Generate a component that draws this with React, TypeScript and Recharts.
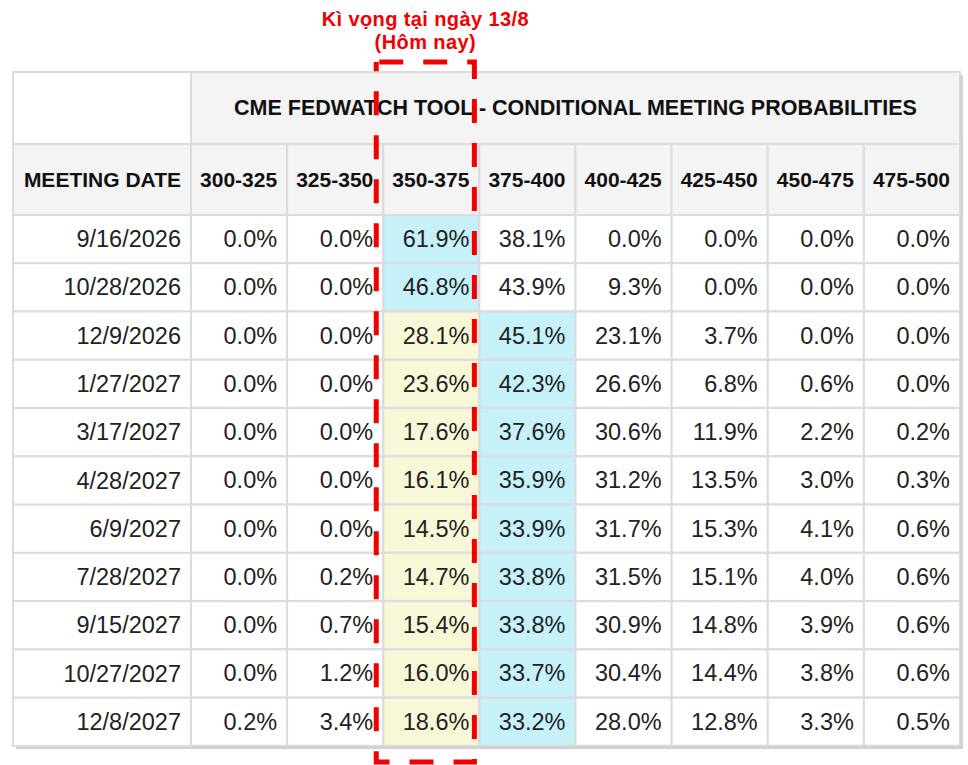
import React from 'react';
import { ComposedChart, Bar, XAxis, YAxis, ReferenceArea } from 'recharts';

const title = 'CME FEDWATCH TOOL - CONDITIONAL MEETING PROBABILITIES';
const dateHeader = 'MEETING DATE';
const noteLine1 = 'Kì vọng tại ngày 13/8';
const noteLine2 = '(Hôm nay)';

const buckets = ['300-325', '325-350', '350-375', '375-400', '400-425', '425-450', '450-475', '475-500'];

const meetingDates = [
  '9/16/2026',
  '10/28/2026',
  '12/9/2026',
  '1/27/2027',
  '3/17/2027',
  '4/28/2027',
  '6/9/2027',
  '7/28/2027',
  '9/15/2027',
  '10/27/2027',
  '12/8/2027',
];

// probabilities (%) per target-rate bucket, one value per meeting date
const p300_325 = [0.0, 0.0, 0.0, 0.0, 0.0, 0.0, 0.0, 0.0, 0.0, 0.0, 0.2];
const p325_350 = [0.0, 0.0, 0.0, 0.0, 0.0, 0.0, 0.0, 0.2, 0.7, 1.2, 3.4];
const p350_375 = [61.9, 46.8, 28.1, 23.6, 17.6, 16.1, 14.5, 14.7, 15.4, 16.0, 18.6];
const p375_400 = [38.1, 43.9, 45.1, 42.3, 37.6, 35.9, 33.9, 33.8, 33.8, 33.7, 33.2];
const p400_425 = [0.0, 9.3, 23.1, 26.6, 30.6, 31.2, 31.7, 31.5, 30.9, 30.4, 28.0];
const p425_450 = [0.0, 0.0, 3.7, 6.8, 11.9, 13.5, 15.3, 15.1, 14.8, 14.4, 12.8];
const p450_475 = [0.0, 0.0, 0.0, 0.6, 2.2, 3.0, 4.1, 4.0, 3.9, 3.8, 3.3];
const p475_500 = [0.0, 0.0, 0.0, 0.0, 0.2, 0.3, 0.6, 0.6, 0.6, 0.6, 0.5];

const series = [p300_325, p325_350, p350_375, p375_400, p400_425, p425_450, p450_475, p475_500];

// bucket holding the current target range
const currentBucket = 2;

const rows = meetingDates.map((date, i) => ({ date, probs: series.map((s) => s[i]) }));

// layout
const W = 968;
const H = 765;
const TABLE_LEFT = 13;
const BODY_LEFT = 191;
const TABLE_RIGHT = 960;
const TITLE_TOP = 72;
const HEAD_TOP = 144;
const BODY_TOP = 215;
const BODY_BOTTOM = 746;
const COL_W = (TABLE_RIGHT - BODY_LEFT) / buckets.length;
const ROW_H = (BODY_BOTTOM - BODY_TOP) / meetingDates.length;

const FONT = '"Liberation Sans", Arial, sans-serif';
const BORDER = '#dcdcdc';
const HEAD_BG = '#f4f4f4';
const CYAN = '#c6f1f9';
const YELLOW = '#f8f7d7';
const RED = '#f20000';
const PAD = 10;
const CELL_FONT = 23.5;

const BucketTick = (props: any) => {
  const { x, payload } = props;
  const j = Math.floor(payload.value);
  const left = x - COL_W / 2;
  return (
    <g>
      {j === 0 && (
        <g>
          <rect x={TABLE_LEFT} y={TITLE_TOP} width={left - TABLE_LEFT} height={HEAD_TOP - TITLE_TOP} fill="#ffffff" stroke={BORDER} strokeWidth={2} />
          <rect x={left} y={TITLE_TOP} width={COL_W * buckets.length} height={HEAD_TOP - TITLE_TOP} fill={HEAD_BG} stroke={BORDER} strokeWidth={2} />
          <text
            x={left + (COL_W * buckets.length) / 2}
            y={(TITLE_TOP + HEAD_TOP) / 2}
            textAnchor="middle"
            dominantBaseline="central"
            fontFamily={FONT}
            fontWeight="bold"
            fontSize={21.5}
            fill="#111"
          >
            {title}
          </text>
          <rect x={TABLE_LEFT} y={HEAD_TOP} width={left - TABLE_LEFT} height={BODY_TOP - HEAD_TOP} fill={HEAD_BG} stroke={BORDER} strokeWidth={2} />
          <text
            x={left - PAD}
            y={(HEAD_TOP + BODY_TOP) / 2}
            textAnchor="end"
            dominantBaseline="central"
            fontFamily={FONT}
            fontWeight="bold"
            fontSize={21}
            fill="#111"
          >
            {dateHeader}
          </text>
          {/* soft shadow on bottom and right edge */}
          <rect x={TABLE_LEFT + 3} y={BODY_BOTTOM} width={TABLE_RIGHT - TABLE_LEFT} height={3} fill="#d2d2d2" />
          <rect x={TABLE_RIGHT} y={TITLE_TOP + 3} width={3} height={BODY_BOTTOM - TITLE_TOP} fill="#d2d2d2" />
        </g>
      )}
      <rect x={left} y={HEAD_TOP} width={COL_W} height={BODY_TOP - HEAD_TOP} fill={HEAD_BG} stroke={BORDER} strokeWidth={2} />
      <text
        x={left + COL_W - PAD}
        y={(HEAD_TOP + BODY_TOP) / 2}
        textAnchor="end"
        dominantBaseline="central"
        fontFamily={FONT}
        fontWeight="bold"
        fontSize={21}
        fill="#111"
      >
        {buckets[j]}
      </text>
    </g>
  );
};

const DateTick = (props: any) => {
  const { y, payload } = props;
  return (
    <g>
      <rect x={TABLE_LEFT} y={y - ROW_H / 2} width={BODY_LEFT - TABLE_LEFT} height={ROW_H} fill="#ffffff" stroke={BORDER} strokeWidth={2} />
      <text x={BODY_LEFT - PAD} y={y} textAnchor="end" dominantBaseline="central" fontFamily={FONT} fontSize={CELL_FONT} fill="#222">
        {payload.value}
      </text>
    </g>
  );
};

const makeCell = (j: number) => (props: any) => {
  const { x, y, width, height, payload } = props;
  const v = payload.probs[j];
  const isMax = v === Math.max(...payload.probs);
  const fill = isMax ? CYAN : j === currentBucket ? YELLOW : '#ffffff';
  return (
    <g>
      <rect x={x} y={y} width={width} height={height} fill={fill} stroke={BORDER} strokeWidth={2} />
      <text
        x={x + width - PAD}
        y={y + height / 2}
        textAnchor="end"
        dominantBaseline="central"
        fontFamily={FONT}
        fontSize={CELL_FONT}
        fill="#222"
      >
        {v.toFixed(1) + '%'}
      </text>
    </g>
  );
};

const RedFrame = (props: any) => {
  const { x, y, width, height } = props;
  const left = x - 7;
  const right = x + width - 5;
  const top = y - 153;
  const bottom = y + height + 16;
  const cx = (left + right) / 2;
  const noteFont = '"Liberation Sans", Arial, sans-serif';
  return (
    <g>
      <rect
        x={left}
        y={top}
        width={right - left}
        height={bottom - top}
        fill="none"
        stroke={RED}
        strokeWidth={5}
        strokeDasharray="24 20"
        strokeDashoffset={-3}
      />
      <text x={cx} y={top - 36} textAnchor="middle" fontFamily={noteFont} fontWeight="bold" fontSize={20} letterSpacing={0.4} fill={RED}>
        {noteLine1}
      </text>
      <text x={cx} y={top - 13} textAnchor="middle" fontFamily={noteFont} fontWeight="bold" fontSize={20} letterSpacing={0.4} fill={RED}>
        {noteLine2}
      </text>
    </g>
  );
};

export default function App() {
  return (
    <div style={{ position: 'absolute', left: 0, top: 0, width: W, height: H, background: '#ffffff' }}>
      <ComposedChart
        width={W}
        height={H}
        data={rows}
        layout="vertical"
        barCategoryGap={0}
        barGap={0}
        margin={{ top: TITLE_TOP, right: W - TABLE_RIGHT, bottom: H - BODY_BOTTOM, left: TABLE_LEFT }}
      >
        <XAxis
          type="number"
          orientation="top"
          domain={[0, buckets.length]}
          ticks={buckets.map((_, j) => j + 0.5)}
          interval={0}
          height={BODY_TOP - TITLE_TOP}
          axisLine={false}
          tickLine={false}
          tick={(p: any) => <BucketTick {...p} />}
        />
        <YAxis
          type="category"
          dataKey="date"
          width={BODY_LEFT - TABLE_LEFT}
          interval={0}
          axisLine={false}
          tickLine={false}
          tick={(p: any) => <DateTick {...p} />}
        />
        {buckets.map((b, j) => (
          <Bar
            key={b}
            name={b}
            stackId="row"
            dataKey={() => 1}
            shape={makeCell(j)}
            isAnimationActive={false}
          />
        ))}
        <ReferenceArea
          x1={currentBucket}
          x2={currentBucket + 1}
          ifOverflow="visible"
          zIndex={5000}
          shape={(p: any) => <RedFrame {...p} />}
        />
      </ComposedChart>
    </div>
  );
}
